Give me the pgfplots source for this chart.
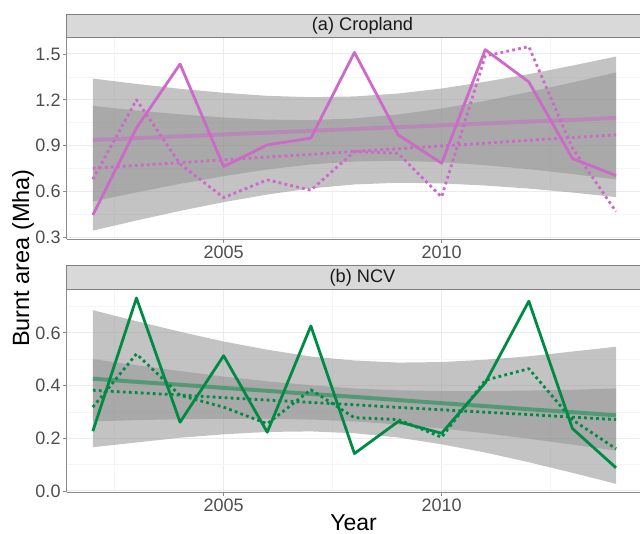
\documentclass[border=0pt]{standalone}
\usepackage{fontspec}
\setmainfont{Liberation Sans}
\usepackage{pgfplots}
\pgfplotsset{compat=1.18}
\usepackage{pgfplotstable}
\usepgfplotslibrary{fillbetween}
\definecolor{mag}{HTML}{CD69C9}
\definecolor{grn}{HTML}{008B45}
\definecolor{ribgray}{RGB}{149,149,149}
\definecolor{gridmaj}{RGB}{235,235,235}
\definecolor{gridmin}{RGB}{245,245,245}
\definecolor{axgray}{RGB}{140,140,140}
\definecolor{tickgray}{RGB}{77,77,77}
\definecolor{stripfill}{RGB}{217,217,217}
\definecolor{stripborder}{RGB}{128,128,128}

\pgfplotstableread{
year s d alo ahi blo bhi ta tb
2002 0.446 0.680 0.535 1.339 0.344 1.160 0.937 0.752
2003 1.015 1.200 0.594 1.304 0.410 1.130 0.949 0.770
2004 1.434 0.780 0.650 1.272 0.473 1.105 0.961 0.789
2005 0.763 0.560 0.700 1.246 0.530 1.084 0.973 0.807
2006 0.905 0.676 0.744 1.226 0.580 1.070 0.985 0.825
2007 0.949 0.608 0.777 1.217 0.620 1.067 0.997 0.843
2008 1.510 0.861 0.796 1.222 0.646 1.078 1.009 0.862
2009 0.971 0.850 0.801 1.241 0.657 1.104 1.021 0.880
2010 0.785 0.564 0.792 1.274 0.653 1.143 1.033 0.898
2011 1.528 1.487 0.772 1.318 0.639 1.193 1.045 0.916
2012 1.317 1.548 0.746 1.368 0.619 1.251 1.057 0.935
2013 0.816 0.884 0.714 1.424 0.593 1.313 1.069 0.953
2014 0.704 0.468 0.679 1.483 0.563 1.379 1.081 0.971
}\croptab

\pgfplotstableread{
year s d alo ahi blo bhi ta tb
2002 0.227 0.318 0.166 0.686 0.264 0.500 0.426 0.382
2003 0.732 0.520 0.184 0.644 0.269 0.477 0.414 0.373
2004 0.261 0.363 0.202 0.604 0.272 0.455 0.403 0.364
2005 0.513 0.318 0.215 0.567 0.274 0.434 0.391 0.354
2006 0.223 0.255 0.224 0.536 0.274 0.416 0.380 0.345
2007 0.626 0.384 0.226 0.510 0.271 0.401 0.368 0.336
2008 0.142 0.278 0.219 0.495 0.264 0.389 0.357 0.327
2009 0.263 0.271 0.203 0.487 0.252 0.382 0.345 0.317
2010 0.219 0.204 0.177 0.489 0.237 0.379 0.333 0.308
2011 0.410 0.420 0.146 0.498 0.219 0.379 0.322 0.299
2012 0.720 0.464 0.109 0.511 0.198 0.381 0.310 0.290
2013 0.237 0.270 0.069 0.529 0.176 0.384 0.299 0.280
2014 0.088 0.160 0.027 0.547 0.153 0.389 0.287 0.271
}\ncvtab

\pgfplotsset{
  panel/.style={
    scale only axis, width=573.3bp,
    xmin=2001.4, xmax=2014.55,
    axis x line*=bottom, axis y line*=left,
    axis line style={-, draw=axgray, line width=1bp},
    xtick={2005,2010}, minor xtick={2002.5,2007.5,2012.5},
    grid=both,
    major grid style={draw=gridmaj, line width=1bp},
    minor grid style={draw=gridmin, line width=0.6bp},
    tick align=outside, major tick length=4bp, minor tick length=0pt,
    tick style={draw=axgray, line width=0.8bp},
    /pgf/number format/assume math mode=true,
    ticklabel style={font=\fontsize{18bp}{20bp}\selectfont, text=tickgray},
    xticklabel style={/pgf/number format/1000 sep={}, inner sep=0pt, yshift=-2bp},
    yticklabel style={/pgf/number format/fixed, /pgf/number format/fixed zerofill, /pgf/number format/precision=1, inner sep=0pt, xshift=-2bp},
  },
  ribbon/.style={fill=ribgray, fill opacity=0.57, draw=none},
  mainline/.style={#1, line width=2.8bp, mark=none, line join=round},
  dotline/.style={#1, line width=2.8bp, mark=none, dash pattern=on 2.8bp off 3.2bp, line join=round},
  trendline/.style={#1, line width=4bp, mark=none, draw opacity=0.5},
}

\begin{document}
\begin{tikzpicture}

% top panel
\begin{axis}[panel, at={(66.7bp,-239.3bp)}, anchor=south west,
  height=202bp, ymin=0.287, ymax=1.609,
  ytick={0.3,0.6,0.9,1.2,1.5}, minor ytick={0.45,0.75,1.05,1.35}]
  \addplot[name path=alo, draw=none, mark=none, forget plot] table[x=year,y=alo]{\croptab};
  \addplot[name path=ahi, draw=none, mark=none, forget plot] table[x=year,y=ahi]{\croptab};
  \addplot[name path=blo, draw=none, mark=none, forget plot] table[x=year,y=blo]{\croptab};
  \addplot[name path=bhi, draw=none, mark=none, forget plot] table[x=year,y=bhi]{\croptab};
  \addplot[ribbon] fill between[of=ahi and alo];
  \addplot[ribbon] fill between[of=bhi and blo];
  \addplot[trendline=mag] table[x=year,y=ta]{\croptab};
  \addplot[dotline=mag] table[x=year,y=tb]{\croptab};
  \addplot[mainline=mag] table[x=year,y=s]{\croptab};
  \addplot[dotline=mag] table[x=year,y=d]{\croptab};
\end{axis}

% bottom panel
\begin{axis}[panel, at={(66.7bp,-492.3bp)}, anchor=south west,
  height=203bp, ymin=-0.005, ymax=0.765,
  ytick={0,0.2,0.4,0.6}, minor ytick={0.1,0.3,0.5,0.7}]
  \addplot[name path=alo, draw=none, mark=none, forget plot] table[x=year,y=alo]{\ncvtab};
  \addplot[name path=ahi, draw=none, mark=none, forget plot] table[x=year,y=ahi]{\ncvtab};
  \addplot[name path=blo, draw=none, mark=none, forget plot] table[x=year,y=blo]{\ncvtab};
  \addplot[name path=bhi, draw=none, mark=none, forget plot] table[x=year,y=bhi]{\ncvtab};
  \addplot[ribbon] fill between[of=ahi and alo];
  \addplot[ribbon] fill between[of=bhi and blo];
  \addplot[trendline=grn] table[x=year,y=ta]{\ncvtab};
  \addplot[dotline=grn] table[x=year,y=tb]{\ncvtab};
  \addplot[mainline=grn] table[x=year,y=s]{\ncvtab};
  \addplot[dotline=grn] table[x=year,y=d]{\ncvtab};
\end{axis}

% strips
\filldraw[fill=stripfill, draw=stripborder, line width=1bp] (66.7bp,-37.3bp) rectangle (646bp,-14.3bp);
\node[font=\fontsize{18.2bp}{20bp}\selectfont, text=black!90] at (362.5bp,-25.8bp) {(a) Cropland};
\filldraw[fill=stripfill, draw=stripborder, line width=1bp] (66.7bp,-289.3bp) rectangle (646bp,-265.7bp);
\node[font=\fontsize{18.2bp}{20bp}\selectfont, text=black!90] at (362.5bp,-277.5bp) {(b) NCV};

% axis titles
\node[rotate=90, font=\fontsize{23.5bp}{26bp}\selectfont] at (23bp,-258bp) {Burnt area (Mha)};
\node[anchor=base, font=\fontsize{23bp}{26bp}\selectfont] at (353.5bp,-530.5bp) {Year};

\pgfresetboundingbox
\path[use as bounding box] (0,0) rectangle (640bp,-534bp);
\end{tikzpicture}
\end{document}
